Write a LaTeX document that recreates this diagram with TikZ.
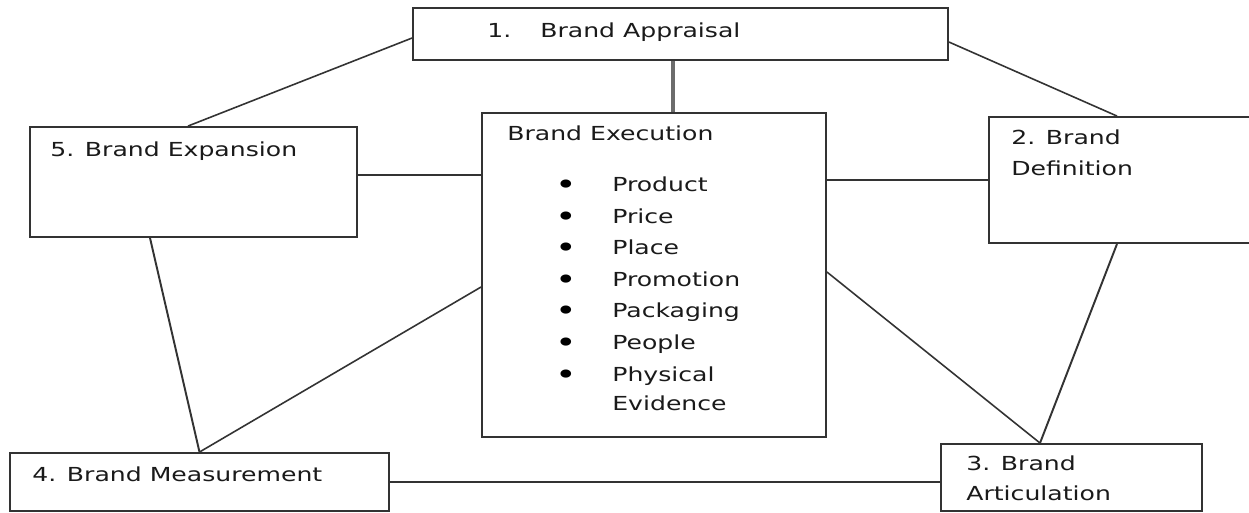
\documentclass[tikz,border=0pt]{standalone}
\usepackage{fontspec}
\setmainfont{DejaVu Sans}[FakeStretch=1.3]
\usetikzlibrary{calc}
\definecolor{linecol}{HTML}{333333}
\definecolor{txtcol}{HTML}{1A1A1A}
\tikzset{
  box/.style={draw=linecol, line width=1.1pt, rectangle, inner sep=0pt},
  conn/.style={draw=linecol, line width=0.9pt},
  lbl/.style={anchor=base west, inner sep=0pt, text=txtcol, font=\fontsize{11pt}{13pt}\selectfont},
  bul/.style={anchor=base, inner sep=0pt, text=black, font=\fontsize{16pt}{18pt}\selectfont}
}
\begin{document}
\begin{tikzpicture}[x=0.02cm, y=-0.02cm]
\clip (0,0) rectangle (1249,512);
\fill[white] (0,0) rectangle (1249,512);
% boxes
\node[box, minimum width=10.7cm, minimum height=1.04cm] (appr) at (680.5,34) {};
\node[box, minimum width=6.88cm, minimum height=6.48cm] (exec) at (654,275) {};
\node[box, minimum width=6.54cm, minimum height=2.2cm] (expa) at (193.5,182) {};
\node[box, minimum width=5.42cm, minimum height=2.52cm] (defi) at (1124.5,180) {};
\node[box, minimum width=7.58cm, minimum height=1.16cm] (meas) at (199.5,482) {};
\node[box, minimum width=5.22cm, minimum height=1.34cm] (arti) at (1071.5,477.5) {};
% connectors
\draw[draw=gray!85!black, line width=1.8pt] ([xshift=-0.15cm]appr.south) -- ([xshift=-0.15cm]appr.south |- exec.north);
\draw[conn] ([yshift=-0.08cm]appr.west) -- ([xshift=-0.11cm]expa.north);
\draw[conn] ([yshift=-0.16cm]appr.east) -- ([xshift=-0.15cm]defi.north);
\draw[conn] ([yshift=0.14cm]expa.east) -- ([yshift=0.14cm]expa.east -| exec.west);
\draw[conn] (defi.west -| exec.east) -- (defi.west);
\draw[conn, line width=1.1pt] ([xshift=-0.87cm]expa.south) -- (meas.north);
\draw[conn] ([yshift=-0.24cm]exec.west) -- (meas.north);
\draw[conn, line width=1.1pt] ([xshift=-0.15cm]defi.south) -- ([xshift=-0.63cm]arti.north);
\draw[conn] ([yshift=0.06cm]exec.east) -- ([xshift=-0.63cm]arti.north);
\draw[conn] (meas.east) -- (meas.east -| arti.west);
% labels
\node[lbl] (t1n) at (487,37) {1.};
\node[lbl] (t1) at (540,37) {Brand Appraisal};
\node[lbl] (t5) at (50,156) {5. Brand Expansion};
\node[lbl] (te) at (507,140.5) {Brand Execution};
\node[lbl] (t2a) at (1011,144) {2. Brand};
\node[lbl] (t2b) at (1011,175) {Definition};
\node[lbl] (t4) at (32,481.5) {4. Brand Measurement};
\node[lbl] (t3a) at (966,470.5) {3. Brand};
\node[lbl] (t3b) at (966,500) {Articulation};
% bullet items
\foreach \name/\yy/\txt in {i1/191.5/Product, i2/223/Price, i3/254/Place, i4/286/Promotion, i5/317/Packaging, i6/349.5/People, i7/381/Physical}{
  \node[bul] (b\name) at (566,\yy+3) {\textbullet};
  \node[lbl] (\name) at (612,\yy) {\txt};
}
\node[lbl] (i8) at (612,410) {Evidence};
\end{tikzpicture}
\end{document}
